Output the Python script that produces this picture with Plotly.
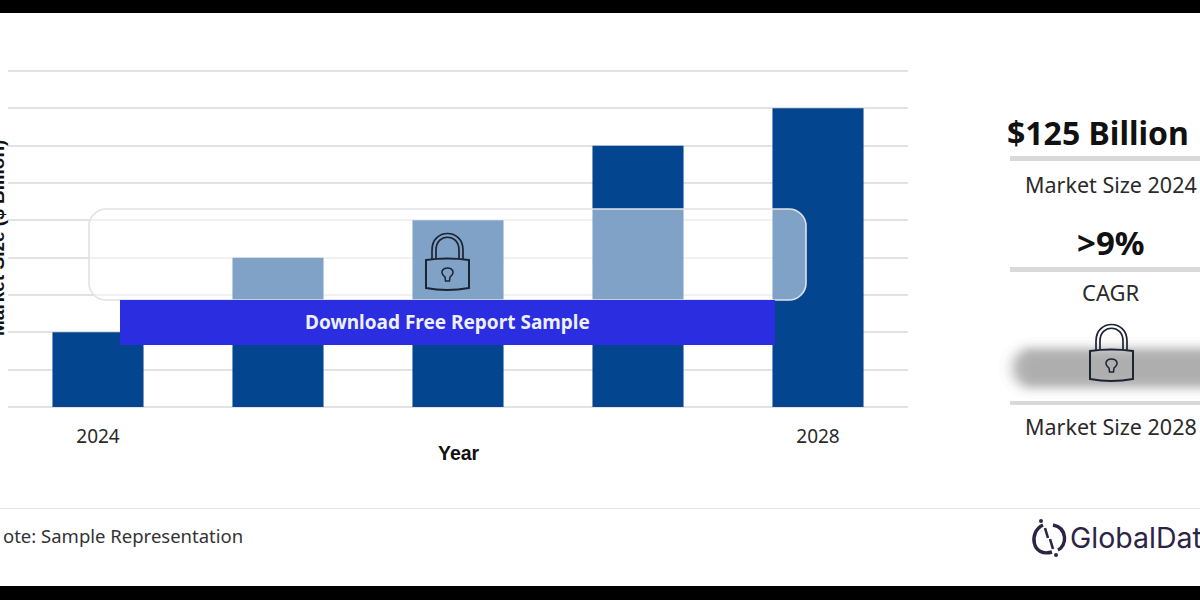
from statistics import NormalDist

import plotly.graph_objects as go

years = [2024, 2025, 2026, 2027, 2028]
values = [2, 4, 5, 7, 8]
tick_years = [2024, 2028]
tick_labels = ["2024", "2028"]
y_max = 9

W, H = 1200, 600
ML, MR, MT, MB = 8, 292, 71, 193
BAR = "#03458f"
GRID = "#e2e2e2"
TXT = "#2a2a2a"
BODY = "Noto Sans"
HEAD = "Liberation Sans"


def fx(x):
    return (x - ML) / (W - ML - MR)


def fy(y):
    return 1 - (y - MT) / (H - MT - MB)


def rect(x0, y0, x1, y1, fill, **kw):
    return dict(type="rect", xref="paper", yref="paper", x0=fx(x0), x1=fx(x1), y0=fy(y0), y1=fy(y1),
                fillcolor=fill, line=dict(width=0), **kw)


def path(cmds, color="#1c2333", width=1.8, fill=None, opacity=None):
    out = []
    for c in cmds:
        if isinstance(c, str):
            out.append(c)
        else:
            out.append(f"{fx(c[0]):.5f},{fy(c[1]):.5f}")
    d = dict(type="path", xref="paper", yref="paper", path=" ".join(out),
             line=dict(color=color, width=width))
    if fill:
        d["fillcolor"] = fill
    if opacity is not None:
        d["opacity"] = opacity
    return d


def rrect(x0, y0, x1, y1, r, **kw):
    r = min(r, (y1 - y0) / 2)
    k = r * 0.45
    return path(["M", (x0 + r, y0), "L", (x1 - r, y0), "C", (x1 - k, y0), (x1, y0 + k), (x1, y0 + r),
                 "L", (x1, y1 - r), "C", (x1, y1 - k), (x1 - k, y1), (x1 - r, y1),
                 "L", (x0 + r, y1), "C", (x0 + k, y1), (x0, y1 - k), (x0, y1 - r),
                 "L", (x0, y0 + r), "C", (x0, y0 + k), (x0 + k, y0), (x0 + r, y0), "Z"], **kw)


def lock(dx, dy):
    def p(x, y):
        return (x + dx, y + dy)
    col = "#1c2333"
    return [
        # body
        path(["M", p(426, 260), "Q", p(447, 257), p(469, 260), "L", p(469, 288), "Q", p(447, 292), p(426, 288), "Z"], col, 2),
        # outer shackle
        path(["M", p(432, 259), "L", p(432, 250), "C", p(432, 228), p(463, 228), p(463, 250), "L", p(463, 259)], col, 1.7),
        # inner shackle
        path(["M", p(436, 258), "L", p(436, 250), "C", p(436, 233), p(459, 233), p(459, 250), "L", p(459, 258)], col, 1.7),
        # keyhole
        path(["M", p(445.5, 281), "L", p(445, 277), "C", p(439, 272), p(443, 268), p(447.5, 268),
              "C", p(452, 268), p(456, 272), p(450, 277), "L", p(449.5, 281), "Z"], col, 1.5),
    ]


shapes = [
    # top gridline, which the axis drops at the very end of its range
    rect(ML, 70, 908, 72, GRID),
    rect(0, 0, W, 13, "#000000"),
    rect(0, 586, W, H, "#000000"),
    rect(0, 508, W, 509, "#e4e4e4"),
    # frosted overlay
    rrect(89, 209, 806, 300, 17, color="#dfe2e8", width=1.6, fill="rgba(255,255,255,0.5)"),
    rect(120, 300, 775, 345, "#2a2de0"),
    # right panel rules
    rect(1010, 156, W, 161, "#d9d9d9"),
    rect(1010, 267, W, 272, "#d9d9d9"),
    rect(1010, 401, W, 405, "#d9d9d9"),
]

# blurred hidden value: stacked soft layers with a bell-shaped edge falloff
BLUR_LAYERS = 30
falloff = NormalDist(mu=11, sigma=5.5)
for i in range(BLUR_LAYERS):
    inset = falloff.inv_cdf((i + 0.5) / BLUR_LAYERS)
    shapes.append(rrect(1000 + inset * 1.3, 338 + inset, 1240, 398 - inset, 30,
                        color="rgba(0,0,0,0)", width=0, fill="rgba(70,70,70,0.016)"))

shapes += lock(0, 0) + lock(664, 91)

# logo mark
LOGO = "#2d2346"
shapes += [
    path(["M", (1043, 525), "C", (1028, 532), (1032, 558), (1052, 552)], LOGO, 3.4),
    path(["M", (1053, 525), "C", (1068, 528), (1067, 546), (1058, 550)], LOGO, 3.4),
    path(["M", (1045, 528), "L", (1048, 538)], LOGO, 2.6),
    path(["M", (1050, 539), "L", (1053, 549)], LOGO, 2.6),
    dict(type="circle", xref="paper", yref="paper", x0=fx(1039), x1=fx(1043), y0=fy(523), y1=fy(519),
         fillcolor=LOGO, line=dict(width=0)),
    dict(type="circle", xref="paper", yref="paper", x0=fx(1054), x1=fx(1058), y0=fy(557), y1=fy(553),
         fillcolor=LOGO, line=dict(width=0)),
]


def note(text, x, y, size, color=TXT, bold=False, anchor="center", font=BODY, angle=0):
    if bold:
        text = f"<b>{text}</b>"
    return dict(text=text, xref="paper", yref="paper", x=fx(x), y=fy(y), xanchor=anchor, yanchor="middle",
                showarrow=False, textangle=angle, font=dict(size=size, color=color, family=font))


annotations = [
    note("Market Size ($ Billion)", -3, 238, 19, "#111111", True, font=HEAD, angle=-90),
    note("Year", 459, 453, 19.5, "#111111", True, font=HEAD),
    note("Download Free Report Sample", 447, 322, 19, "#eef0ff", True),
    note("$125 Billion", 1098, 132, 32, "#111111", True),
    note("Market Size 2024", 1110.5, 184, 21.5),
    note(">9%", 1111, 242, 33, "#111111", True),
    note("CAGR", 1111, 292, 22),
    note("Market Size 2028", 1110.5, 426, 21.5),
    note("ote: Sample Representation", 1, 535, 18.5, "#333333", anchor="left"),
    note("GlobalData", 1068, 537, 28.5, LOGO, anchor="left", font="Inter"),
]

fig = go.Figure(go.Bar(x=years, y=values, width=0.506, marker=dict(color=BAR, line=dict(width=0))))

fig.update_layout(
    width=W, height=H, margin=dict(l=ML, r=MR, t=MT, b=MB, autoexpand=False),
    paper_bgcolor="white", plot_bgcolor="white", showlegend=False,
    shapes=shapes, annotations=annotations,
    xaxis=dict(range=[2023.5, 2028.5], tickmode="array", tickvals=tick_years, ticktext=tick_labels,
               ticks="outside", ticklen=12, tickcolor="rgba(0,0,0,0)", showgrid=False, showline=False, zeroline=False,
               tickfont=dict(size=19, color=TXT, family=BODY)),
    yaxis=dict(range=[0, y_max], dtick=1, showticklabels=False, ticks="", gridcolor=GRID, gridwidth=2,
               showline=False, zeroline=True, zerolinecolor=GRID, zerolinewidth=2),
)

fig.write_html("out.html", config=dict(displayModeBar=False),
               post_script="document.body.style.margin='0';document.body.style.overflow='hidden';")
